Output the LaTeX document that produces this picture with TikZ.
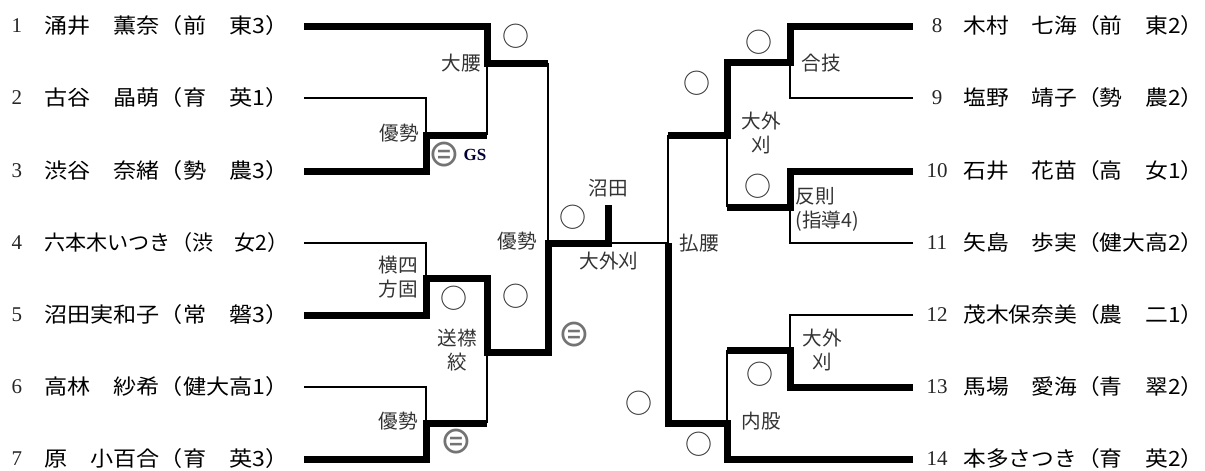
\documentclass[tikz,border=0pt]{standalone}
\usepackage{fontspec}
\usepackage{graphicx}
\newfontfamily\jpfont{Noto Sans CJK JP}
\newfontfamily\numfont{Liberation Serif}
\newfontfamily\symfont{DejaVu Sans}
\newcommand{\senshuL}[1]{\resizebox{122pt}{\height}{#1}}
\newcommand{\senshuR}[1]{\resizebox{120pt}{\height}{#1}}

\begin{document}
\begin{tikzpicture}[x=0.5pt,y=-0.5pt,
    win/.style={line width=3.5pt},
    lose/.style={line width=1.2pt},
    num/.style={font=\fontsize{10.5}{12}\selectfont\numfont, text=black!85, inner sep=0pt},
    player/.style={font=\fontsize{10.5}{12}\selectfont\jpfont, anchor=west, inner sep=0pt},
    waza/.style={font=\fontsize{9.8}{12}\selectfont\jpfont, text=black!80, inner sep=0pt},
    maru/.style={font=\fontsize{13.5}{13.5}\selectfont\jpfont, text=black!80, inner sep=0pt},
    batsu/.style={font=\fontsize{19}{19}\selectfont\symfont, text=black!55, inner sep=0pt},
    gs/.style={font=\fontsize{8.5}{8.5}\selectfont\numfont\bfseries, text=black!80!blue, inner sep=0pt}]
        \useasboundingbox (0,0) rectangle (1205,471);
        % Entrants, left block
        \node[num] (n1) at (17,26) {1};  \node[player] (p1) at (44,26) {\senshuL{涌井　薫奈（前　東3）}};
        \node[num] (n2) at (17,98) {2};  \node[player] (p2) at (44,98) {\senshuL{古谷　晶萌（育　英1）}};
        \node[num] (n3) at (17,171) {3}; \node[player] (p3) at (44,171) {\senshuL{渋谷　奈緒（勢　農3）}};
        \node[num] (n4) at (17,243) {4}; \node[player] (p4) at (44,243) {\senshuL{六本木いつき（渋　女2）}};
        \node[num] (n5) at (17,315) {5}; \node[player] (p5) at (44,315) {\senshuL{沼田実和子（常　磐3）}};
        \node[num] (n6) at (17,387) {6}; \node[player] (p6) at (44,387) {\senshuL{高林　紗希（健大高1）}};
        \node[num] (n7) at (17,459) {7}; \node[player] (p7) at (44,459) {\senshuL{原　小百合（育　英3）}};
        % Entrants, right block
        \node[num] (n8) at (937,26) {8};    \node[player] (p8) at (963,26) {\senshuR{木村　七海（前　東2）}};
        \node[num] (n9) at (937,98) {9};    \node[player] (p9) at (963,98) {\senshuR{塩野　靖子（勢　農2）}};
        \node[num] (n10) at (937,171) {10}; \node[player] (p10) at (963,171) {\senshuR{石井　花苗（高　女1）}};
        \node[num] (n11) at (937,243) {11}; \node[player] (p11) at (963,243) {\senshuR{矢島　歩実（健大高2）}};
        \node[num] (n12) at (937,315) {12}; \node[player] (p12) at (963,315) {\senshuR{茂木保奈美（農　二1）}};
        \node[num] (n13) at (937,387) {13}; \node[player] (p13) at (963,387) {\senshuR{馬場　愛海（青　翠2）}};
        \node[num] (n14) at (937,459) {14}; \node[player] (p14) at (963,459) {\senshuR{本多さつき（育　英2）}};
        % Left bracket, losers
        \draw[lose] (304,98) -| (426,135);
        \draw[lose] (487,135) -- (487,63);
        \draw[lose] (304,243) -| (426,278);
        \draw[lose] (304,387) -| (426,423);
        \draw[lose] (487,423) -- (487,352);
        \draw[lose] (548,63) -- (548,243);
        % Left bracket, winners
        \draw[win] (304,26) -| (487,63) -- (548,63);
        \draw[win] (304,171) -| (426,135) -- (487,135);
        \draw[win] (304,315) -| (426,278) -- (487,278) -- (487,352) -- (548,352) -- (548,243) -- (608,243) -- (608,205);
        \draw[win] (304,459) -| (426,423) -- (487,423);
        % Final
        \draw[lose] (608,243) -- (668,243);
        % Right bracket, losers
        \draw[lose] (913,98) -| (790,62);
        \draw[lose] (913,243) -| (790,207);
        \draw[lose] (727,207) -- (727,135);
        \draw[lose] (668,135) -- (668,243);
        \draw[lose] (913,315) -| (790,350);
        \draw[lose] (727,350) -- (727,423);
        % Right bracket, winners
        \draw[win] (913,26) -| (790,62) -- (727,62) -- (727,135) -- (668,135);
        \draw[win] (913,171) -| (790,207) -- (727,207);
        \draw[win] (913,387) -| (790,350) -- (727,350);
        \draw[win] (913,459) -| (727,423) -- (668,423) -- (668,243);
        % Results, left
        \node[waza, anchor=east] (w1) at (481,63) {大腰};
        \node[maru] (m1) at (516,36) {○};
        \node[waza, anchor=east] (w2) at (419,133) {優勢};
        \node[batsu] (b1) at (444,155) {⊜};
        \node[gs, anchor=west] (gs1) at ([xshift=1.5pt]b1.east) {GS};
        \node[waza] (w3) at (608,188) {沼田};
        \node[maru] (m2) at (573,217) {○};
        \node[waza] (w4) at (517,241) {優勢};
        \node[waza] (w5) at (609,261) {大外刈};
        \node[waza, anchor=east, align=right] (w6) at (418,277) {横四\\方固};
        \node[maru] (m3) at (454,298) {○};
        \node[maru] (m4) at (516,296) {○};
        \node[waza, align=center] (w7) at (457,350) {送襟\\絞};
        \node[batsu] (b2) at (574,335) {⊜};
        \node[maru] (m5) at (639,403) {○};
        \node[waza, anchor=east] (w8) at (418,421) {優勢};
        \node[batsu] (b3) at (456,442) {⊜};
        % Results, right
        \node[maru] (m6) at (759,42) {○};
        \node[waza, anchor=west] (w9) at (801,63) {合技};
        \node[maru] (m7) at (697,83) {○};
        \node[waza, align=center] (w10) at (761,133) {大外\\刈};
        \node[maru] (m8) at (758,186) {○};
        \node[waza, anchor=west, align=left] (w11) at (795,209) {反則\\(指導4)};
        \node[waza, anchor=west] (w12) at (679,243) {払腰};
        \node[waza, align=center] (w13) at (822,350) {大外\\刈};
        \node[maru] (m9) at (760,374) {○};
        \node[waza] (w14) at (761,421) {内股};
        \node[maru] (m10) at (699,444) {○};
      \end{tikzpicture}
\end{document}
